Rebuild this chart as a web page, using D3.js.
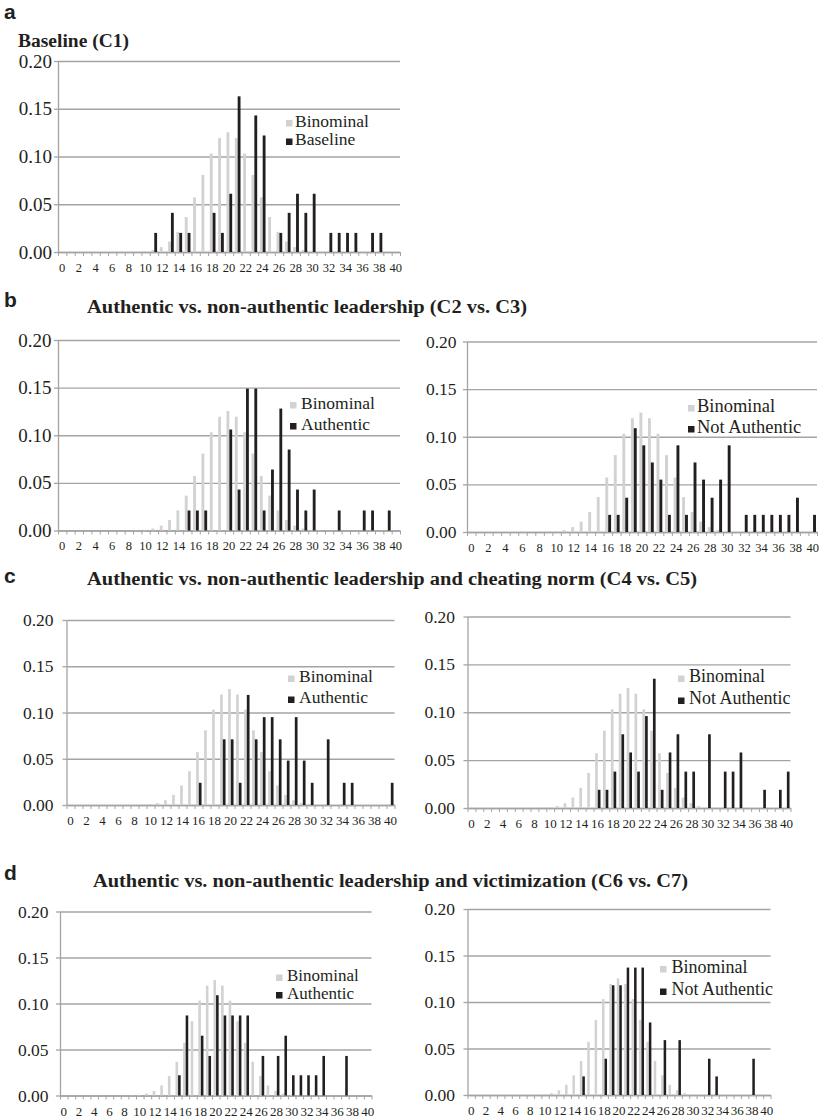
<!DOCTYPE html>
<html>
<head>
<meta charset="utf-8">
<script src="https://d3js.org/d3.v7.min.js"></script>
<style>
  body { margin: 0; background: #fff; }
  svg text { font-family: "Liberation Serif", "Times New Roman", Times, serif; fill: #231f20; }
</style>
</head>
<body>
<svg id="chart" width="823" height="1120"></svg>
<script>
// categories 0..40 (number of cheaters / reported outcome)
const categories = [0,1,2,3,4,5,6,7,8,9,10,11,12,13,14,15,16,17,18,19,20,
  21,22,23,24,25,26,27,28,29,30,31,32,33,34,35,36,37,38,39,40];
const xTickLabels = [0,2,4,6,8,10,12,14,16,18,20,22,24,26,28,30,32,34,36,38,40];
const yTicks = [0, 0.05, 0.10, 0.15, 0.20];

const binominal = [0,0,0,0,0,0,0,0,0.0001,0.0003,
  0.0008,0.0021,0.0051,0.0109,0.0211,0.0366,0.0572,0.0807,0.1031,0.1194,
  0.1254,0.1194,0.1031,0.0807,0.0572,0.0366,0.0211,0.0109,0.0051,0.0021,
  0.0008,0.0003,0.0001,0,0,0,0,0,0,0,0];

const baselineC1 = [0,0,0,0,0,0,0,0,0,0,
  0,.020,0,.041,.020,.020,0,0,.041,.020,
  .061,.163,0,.143,.122,0,.020,.041,.061,.041,
  .061,0,.020,.020,.020,.020,0,.020,.020,0,0];
const authenticC2 = [0,0,0,0,0,0,0,0,0,0,
  0,0,0,0,0,.021,.021,.021,0,0,
  .106,.043,.149,.149,.021,.064,.128,.085,.043,.021,
  .043,0,0,.021,0,0,.021,.021,0,.021,0];
const notAuthenticC3 = [0,0,0,0,0,0,0,0,0,0,
  0,0,0,0,0,0,.018,.018,.036,.109,
  .091,.073,.055,.018,.091,.018,.073,.055,.036,.055,
  .091,0,.018,.018,.018,.018,.018,.018,.036,0,.018];
const authenticC4 = [0,0,0,0,0,0,0,0,0,0,
  0,0,0,0,0,0,.024,0,0,.071,
  .071,.024,.119,.071,.095,.095,.071,.048,.095,.048,
  .024,0,.071,0,.024,.024,0,0,0,0,.024];
const notAuthenticC5 = [0,0,0,0,0,0,0,0,0,0,
  0,0,0,0,0,0,.019,.019,.038,.077,
  .058,.038,.096,.135,.019,.058,.077,.038,.038,0,
  .077,0,.038,.038,.058,0,0,.019,0,.019,.038];
const authenticC6 = [0,0,0,0,0,0,0,0,0,0,
  0,0,0,0,0,.022,.087,0,.065,.043,
  .109,.087,.087,.087,.087,0,.043,0,.043,.065,
  .022,.022,.022,.022,.043,0,0,.043,0,0,0];
const notAuthenticC7 = [0,0,0,0,0,0,0,0,0,0,
  0,0,0,0,0,.020,0,0,.039,.118,
  .118,.137,.137,.137,.078,0,.059,0,.059,0,
  0,0,.039,.020,0,0,0,0,.039,0,0];

const greyCol = '#d2d2d2';
const blackCol = '#231f20';
const gridCol = '#a4a4a4';
const serif = '"Liberation Serif", "Times New Roman", Times, serif';

const svg = d3.select('#chart');
svg.append('rect').attr('width', 823).attr('height', 1120).attr('fill', '#fff');

function panel(cfg, obs, obsName) {
  var x = d3.scaleBand().domain(categories).range([cfg.left, cfg.right]);
  var y = d3.scaleLinear().domain([0, 0.2]).range([cfg.bottom, cfg.top]);
  var bw = x.bandwidth();
  var sub = d3.scaleBand().domain(['bin', 'obs']).range([bw * 0.2, bw * 0.88]);
  var w = cfg.right - cfg.left;
  var g = svg.append('g');

  // gridlines
  g.append('g')
    .attr('transform', 'translate(' + cfg.left + ',0)')
    .call(d3.axisLeft(y).tickValues(yTicks).tickSize(-w).tickFormat(''))
    .call(s => s.select('.domain').remove())
    .selectAll('line').attr('stroke', gridCol).attr('stroke-width', 1.3);

  // y axis
  var ya = g.append('g')
    .attr('transform', 'translate(' + cfg.left + ',0)')
    .call(d3.axisLeft(y).tickValues(yTicks).tickSize(4).tickSizeOuter(0)
      .tickPadding(cfg.left - 4 - cfg.ylabRight).tickFormat(d3.format('.2f')))
  ya.select('.domain').attr('stroke', gridCol).attr('stroke-width', 1.3)
  ya.selectAll('line').attr('stroke', gridCol).attr('stroke-width', 1.3)
  ya.selectAll('text').style('font-size', cfg.yfont + 'px')
    .style('font-family', serif).attr('fill', blackCol)

  // x axis: ticks on category boundaries
  var xb = d3.scaleLinear().domain([0, categories.length]).range([cfg.left, cfg.right]);
  var bounds = categories.concat([categories.length]);
  var xa = g.append('g')
    .attr('transform', 'translate(0,' + cfg.bottom + ')')
    .call(d3.axisBottom(xb).tickValues(bounds).tickSize(4).tickSizeOuter(0).tickFormat(''))
  xa.select('.domain').attr('stroke', gridCol).attr('stroke-width', 1.3)
  xa.selectAll('line').attr('stroke', gridCol).attr('stroke-width', 1)

  var xl = g.append('g')
    .attr('transform', 'translate(0,' + cfg.bottom + ')')
    .call(d3.axisBottom(x).tickValues(xTickLabels).tickSize(0).tickPadding(11))
  xl.select('.domain').remove()
  xl.selectAll('text').style('font-size', cfg.xfont + 'px')
    .style('font-family', serif).attr('fill', blackCol)

  // bars
  g.selectAll('.bin')
    .data(categories)
    .enter().append('rect')
    .attr('x', d => x(d) + sub('bin'))
    .attr('width', sub.bandwidth())
    .attr('y', d => y(binominal[d]))
    .attr('height', d => y(0) - y(binominal[d]))
    .attr('fill', greyCol)

  g.selectAll('.obs')
    .data(categories)
    .enter().append('rect')
    .attr('x', d => x(d) + sub('obs'))
    .attr('width', sub.bandwidth())
    .attr('y', d => y(obs[d]))
    .attr('height', d => y(0) - y(obs[d]))
    .attr('fill', blackCol)

  // legend
  var lg = cfg.legend;
  var items = [['Binominal', greyCol, lg.b1], [obsName, blackCol, lg.b2]];
  items.forEach(function (it) {
    g.append('rect').attr('x', lg.sq).attr('y', it[2] - 6.5).attr('width', 6.5).attr('height', 6.5)
      .attr('fill', it[1]);
    g.append('text').attr('x', lg.tx).attr('y', it[2]).style('font-size', lg.fs + 'px').text(it[0]);
  });
}

function letter(t, x, y) {
  svg.append('text').attr('x', x).attr('y', y)
    .style('font-family', '"Liberation Sans", Arial, sans-serif')
    .style('font-weight', 'bold').style('font-size', '21px').text(t);
}
function title(t, x, y, len) {
  svg.append('text').attr('x', x).attr('y', y)
    .attr('textLength', len).attr('lengthAdjust', 'spacingAndGlyphs')
    .style('font-weight', 'bold').style('font-size', '18.5px').text(t);
}

letter('a', 4, 19);
title('Baseline (C1)', 18, 47, 111);
letter('b', 4, 307);
title('Authentic vs. non-authentic leadership (C2 vs. C3)', 87, 313, 440);
letter('c', 4, 583);
title('Authentic vs. non-authentic leadership and cheating norm (C4 vs. C5)', 87, 585, 610);
letter('d', 4, 880);
title('Authentic vs. non-authentic leadership and victimization (C6 vs. C7)', 93, 887, 595);

panel({left: 58, right: 400, top: 61, bottom: 252, ylabRight: 52, yfont: 19, xfont: 12.5,
  legend: {sq: 286, tx: 295, b1: 126.5, b2: 145, fs: 17.5}}, baselineC1, 'Baseline');
panel({left: 58, right: 400, top: 340, bottom: 530.5, ylabRight: 51.5, yfont: 19, xfont: 12.5,
  legend: {sq: 290, tx: 301, b1: 408.5, b2: 429.5, fs: 17.5}}, authenticC2, 'Authentic');
panel({left: 467, right: 817, top: 341.5, bottom: 532, ylabRight: 456.5, yfont: 17.5, xfont: 12.5,
  legend: {sq: 688, tx: 697, b1: 411.5, b2: 432.5, fs: 18.5}}, notAuthenticC3, 'Not Authentic');
panel({left: 66.5, right: 394.5, top: 620, bottom: 805, ylabRight: 53.5, yfont: 17.5, xfont: 13,
  legend: {sq: 288, tx: 299, b1: 682, b2: 703, fs: 17.5}}, authenticC4, 'Authentic');
panel({left: 467.5, right: 790.5, top: 616.5, bottom: 808, ylabRight: 455, yfont: 17.5, xfont: 13,
  legend: {sq: 678, tx: 689, b1: 682, b2: 704, fs: 18}}, notAuthenticC5, 'Not Authentic');
panel({left: 60, right: 371.5, top: 911.5, bottom: 1095.5, ylabRight: 48.5, yfont: 17.5, xfont: 13,
  legend: {sq: 276, tx: 287, b1: 981, b2: 998.5, fs: 17}}, authenticC6, 'Authentic');
panel({left: 467.5, right: 770.5, top: 909, bottom: 1095, ylabRight: 455, yfont: 17.5, xfont: 13,
  legend: {sq: 660, tx: 671.5, b1: 972.5, b2: 995, fs: 18}}, notAuthenticC7, 'Not Authentic');
</script>
</body>
</html>
